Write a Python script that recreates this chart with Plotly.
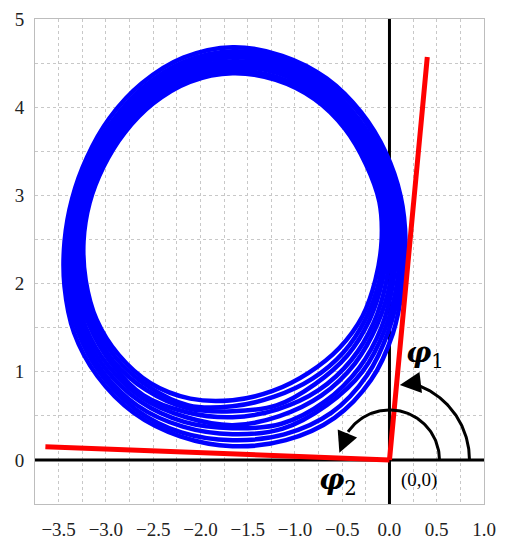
import numpy as np
import plotly.graph_objects as go

# ring of trajectory passes, read off the figure as a radius (screen px)
# along rays from the ring centre, one list per pass, outermost first
ring_angle = [0, 15, 30, 45, 60, 75, 90, 105, 120, 135, 150, 165,
              180, 195, 210, 225, 240, 255, 270, 285, 300, 315, 330, 345]
loop_r = [
    [173, 174, 177, 182, 188, 192, 194, 190, 182, 174, 168, 166, 168, 174, 183, 191, 198, 202, 205, 206, 204, 196, 185, 176],
    [170, 171, 174, 180, 185, 189, 190, 186, 178, 170, 165, 163, 166, 172, 179, 187, 194, 198, 199, 200, 198, 190, 180, 173],
    [167, 168, 171, 176, 182, 186, 187, 183, 176, 168, 163, 161, 163, 169, 176, 184, 190, 192, 193, 194, 189, 184, 176, 170],
    [164, 166, 169, 174, 179, 183, 184, 180, 173, 166, 160, 159, 161, 166, 173, 180, 185, 187, 187, 189, 185, 179, 172, 166],
    [161, 163, 166, 171, 176, 180, 180, 177, 170, 163, 158, 157, 159, 163, 170, 176, 181, 182, 184, 181, 178, 173, 167, 163],
    [158, 160, 163, 168, 173, 177, 177, 174, 167, 161, 156, 154, 156, 161, 166, 172, 178, 177, 176, 174, 172, 168, 163, 159],
    [155, 157, 160, 165, 170, 174, 174, 171, 165, 158, 154, 152, 154, 158, 163, 169, 172, 173, 170, 170, 165, 162, 158, 155],
    [152, 154, 157, 162, 167, 170, 171, 168, 162, 156, 151, 150, 151, 155, 160, 165, 168, 170, 165, 161, 159, 157, 154, 152],
    [149, 152, 154, 159, 164, 167, 168, 165, 159, 153, 149, 148, 149, 152, 157, 161, 164, 163, 159, 155, 152, 151, 150, 148],
]
RING_CX, RING_CY = -1.66, 2.48

# the two red rays from the origin
ray1_x = [0.0, 0.40]
ray1_y = [0.0, 4.57]
ray2_x = [0.0, -3.64]
ray2_y = [0.0, 0.15]

x_range = [-3.75, 1.0]
y_range = [-0.5, 5.0]

# screen pixels per axis unit (plot area is 449 x 485 px)
PX_X, PX_Y = 449 / 4.75, 485 / 5.5
ARC1_R, ARC1_END = 80, 73
ARC2_R, ARC2_END = 50, 146

fig = go.Figure()

# black coordinate axes through the origin
fig.add_trace(go.Scatter(x=x_range, y=[0, 0], mode='lines',
                         line=dict(color='black', width=3), hoverinfo='skip'))
fig.add_trace(go.Scatter(x=[0, 0], y=y_range, mode='lines',
                         line=dict(color='black', width=3), hoverinfo='skip'))

# trajectory loops
t = np.radians(ring_angle + ring_angle[:1])
for r in loop_r:
    r = np.array(r + r[:1], dtype=float)
    fig.add_trace(go.Scatter(
        x=RING_CX + r * np.cos(t) / PX_X, y=RING_CY + r * np.sin(t) / PX_Y,
        mode='lines',
        line=dict(color='#0000ff', width=4.5, shape='spline', smoothing=1.0)
    ))

# red rays
for rx, ry in [(ray1_x, ray1_y), (ray2_x, ray2_y)]:
    fig.add_trace(go.Scatter(x=rx, y=ry, mode='lines',
                             line=dict(color='#ff0000', width=5)))

# angle arcs
for r, end in [(ARC1_R, ARC1_END), (ARC2_R, ARC2_END)]:
    ta = np.radians(np.linspace(0, end, 80))
    fig.add_trace(go.Scatter(x=r / PX_X * np.cos(ta), y=r / PX_Y * np.sin(ta),
                             mode='lines', line=dict(color='black', width=3)))

arrow = dict(xref='x', yref='y', axref='x', ayref='y', text='', showarrow=True,
             arrowhead=2, arrowsize=1.4, arrowwidth=3, arrowcolor='black')
t1 = np.radians(ARC1_END)
t2 = np.radians(ARC2_END)
fig.add_annotation(x=0.11, y=0.85, ax=ARC1_R / PX_X * np.cos(t1),
                   ay=ARC1_R / PX_Y * np.sin(t1), **arrow)
fig.add_annotation(x=-0.53, y=0.08, ax=ARC2_R / PX_X * np.cos(t2),
                   ay=ARC2_R / PX_Y * np.sin(t2), **arrow)

label_font = dict(family='DejaVu Serif', size=28, color='black')
fig.add_annotation(x=0.38, y=1.19, text='<b><i>φ</i></b><sub>1</sub>',
                   showarrow=False, font=label_font)
fig.add_annotation(x=-0.54, y=-0.24, text='<b><i>φ</i></b><sub>2</sub>',
                   showarrow=False, font=label_font)
fig.add_annotation(x=0.31, y=-0.23, text='(0,0)', showarrow=False,
                   font=dict(family='Liberation Serif', size=19, color='black'))

grid = dict(showgrid=True, gridcolor='#c8c8c8', griddash='dot', gridwidth=1)

fig.update_xaxes(
    range=x_range, dtick=0.5, tick0=0, tickformat='.1f',
    minor=dict(dtick=0.25, tick0=0, **grid), **grid,
    zeroline=False, showline=True, linecolor='#bdbdbd', mirror=True,
    ticks='outside', ticklen=8, tickcolor='white', automargin=False,
    tickfont=dict(family='Liberation Serif', size=19, color='#222222')
)
fig.update_yaxes(
    range=y_range, dtick=1, tick0=0, tickformat='d',
    minor=dict(dtick=0.5, tick0=0, **grid), **grid,
    zeroline=False, showline=True, linecolor='#bdbdbd', mirror=True,
    ticks='outside', ticklen=6, tickcolor='white', automargin=False,
    tickfont=dict(family='Liberation Serif', size=19, color='#222222')
)

# the page body adds 8px, so the figure is sized and placed to allow for it
fig.update_layout(
    width=503, height=542,
    margin=dict(l=27, r=27, t=11, b=46),
    plot_bgcolor='white', paper_bgcolor='white',
    showlegend=False
)

fig.write_html("out.html")
